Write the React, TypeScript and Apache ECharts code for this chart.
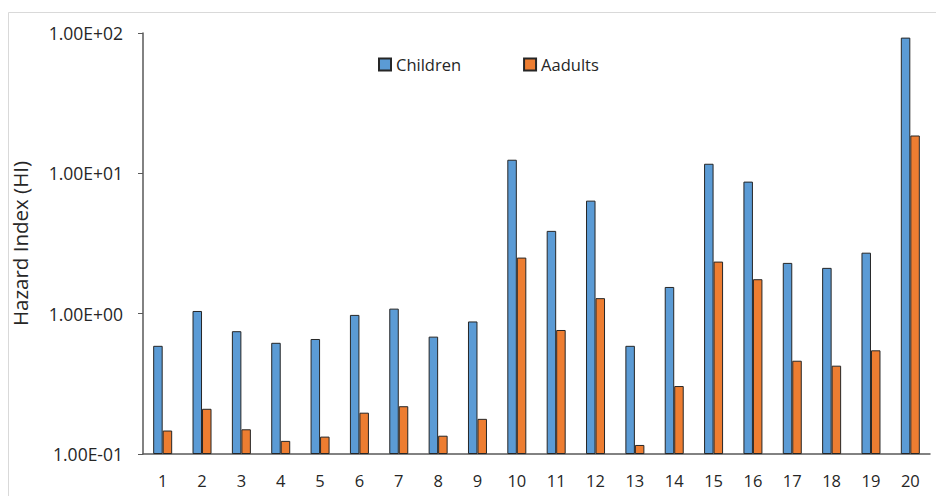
import React, { useEffect, useRef } from "react";
import * as echarts from "echarts";

const categories = ["1","2","3","4","5","6","7","8","9","10","11","12","13","14","15","16","17","18","19","20"];
const childrenValues = [0.59, 1.045, 0.75, 0.62, 0.66, 0.98, 1.086, 0.686, 0.88, 12.5, 3.89, 6.39, 0.59, 1.55, 11.7, 8.73, 2.3, 2.12, 2.72, 92.7];
const adultsValues = [0.147, 0.21, 0.15, 0.124, 0.133, 0.197, 0.219, 0.135, 0.178, 2.51, 0.765, 1.29, 0.116, 0.305, 2.35, 1.76, 0.462, 0.426, 0.548, 18.6];
const seriesNames = ["Children", "Aadults"];
const yAxisTitle = "Hazard Index (HI)";
const yMin = 0.1;
const yMax = 100;

function fmtSci(v: number): string {
  const e = Math.round(Math.log10(v));
  const m = v / Math.pow(10, e);
  const sign = e < 0 ? "-" : "+";
  const abs = Math.abs(e);
  return m.toFixed(2) + "E" + sign + (abs < 10 ? "0" + abs : String(abs));
}

export default function App() {
  const ref = useRef<HTMLDivElement>(null);
  useEffect(() => {
    if (!ref.current) return;
    const chart = echarts.init(ref.current, undefined, { renderer: "svg" });
    const font = "Open Sans";
    chart.setOption({
      animation: false,
      backgroundColor: "#ffffff",
      graphic: [
        {
          type: "polyline",
          shape: { points: [[8.5, 600], [8.5, 12.5], [1000, 12.5]] },
          style: { stroke: "#d9d9d9", lineWidth: 1, fill: "none" },
          silent: true,
        },
      ],
      legend: {
        left: 378,
        top: 56,
        padding: 0,
        itemWidth: 12,
        itemHeight: 12,
        itemGap: 62,
        icon: "rect",
        textStyle: { fontFamily: font, fontSize: 16.5, color: "#262626" },
        data: seriesNames,
      },
      grid: { left: 143, right: 6, top: 33, bottom: 42, containLabel: false },
      xAxis: {
        type: "category",
        data: categories,
        axisLine: { lineStyle: { color: "#595959", width: 1.5 } },
        axisTick: { show: false },
        axisLabel: { fontFamily: font, fontSize: 16.5, color: "#262626", margin: 18 },
      },
      yAxis: {
        type: "log",
        logBase: 10,
        min: yMin,
        max: yMax,
        startValue: yMin,
        name: yAxisTitle,
        nameLocation: "middle",
        nameGap: 113,
        nameTextStyle: { fontFamily: font, fontSize: 20.5, color: "#262626" },
        axisLine: { show: true, lineStyle: { color: "#595959", width: 1.5 } },
        axisTick: { show: true, inside: false, length: 5, lineStyle: { color: "#595959" } },
        splitLine: { show: false },
        axisLabel: {
          fontFamily: font,
          fontSize: 17.5,
          color: "#262626",
          margin: 20,
          formatter: (v: number) => fmtSci(v),
        },
      },
      series: [
        {
          name: seriesNames[0],
          type: "bar",
          data: childrenValues,
          barWidth: 9.5,
          barGap: "0%",
          itemStyle: { color: "#5B9BD5", borderColor: "#262626", borderWidth: 1 },
        },
        {
          name: seriesNames[1],
          type: "bar",
          data: adultsValues,
          barWidth: 9.5,
          barGap: "0%",
          itemStyle: { color: "#ED7D31", borderColor: "#262626", borderWidth: 1 },
        },
      ],
    });
    return () => chart.dispose();
  }, []);
  return <div ref={ref} style={{ width: 936, height: 496, position: "absolute", left: 0, top: 0 }} />;
}
